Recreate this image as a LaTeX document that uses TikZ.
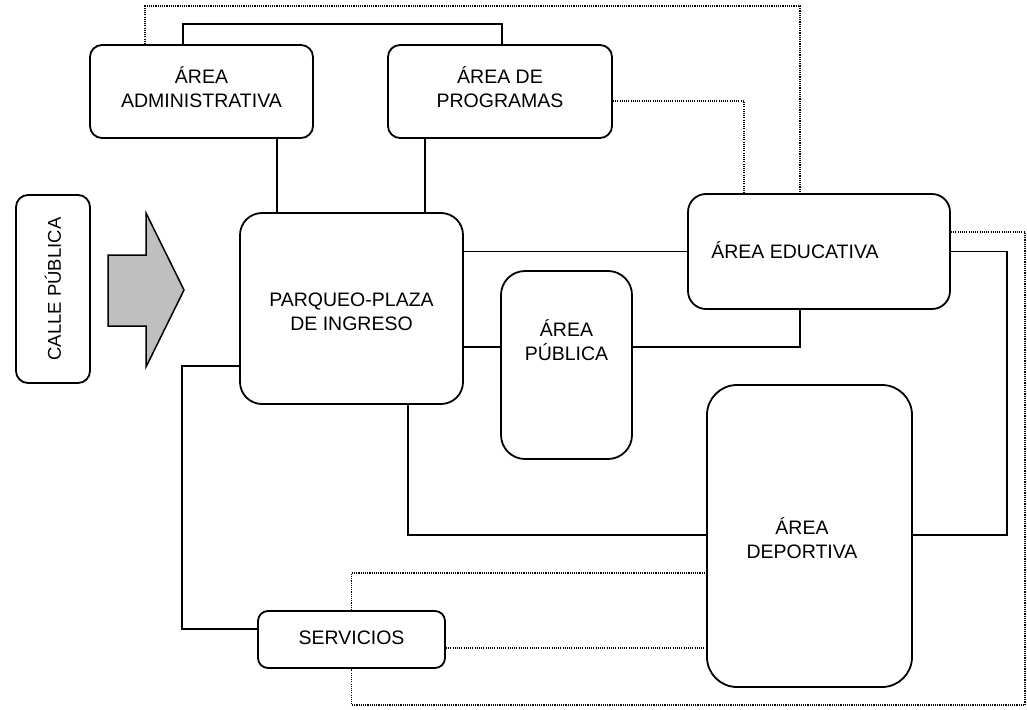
\documentclass[tikz,border=0pt]{standalone}
\usepackage{fontspec}
\setmainfont{Liberation Sans}
\begin{document}
\begin{tikzpicture}[x=1pt,y=-1pt,
  box/.style={draw, line width=1.8pt, rounded corners=#1, inner sep=0pt},
  txt/.style={font=\fontsize{19.5}{24}\selectfont, align=center, inner sep=0pt},
  conn/.style={line width=1.8pt},
  dotline/.style={line width=1.3pt, dash pattern=on 1.1pt off 1.1pt}]
\useasboundingbox (0,0) rectangle (1027,709);
% boxes
\node[box=12pt, minimum width=223pt, minimum height=93pt] (adm) at (201.5,91.5) {};
\node[txt] (admT) at (201.5,87) {ÁREA\\ADMINISTRATIVA};
\node[box=12pt, minimum width=224pt, minimum height=93pt] (prog) at (500,91.5) {};
\node[txt] (progT) at (500,87) {ÁREA DE\\PROGRAMAS};
\node[box=12pt, minimum width=74pt, minimum height=188pt] (calle) at (53,289) {};
\node[txt, rotate=90] (calleT) at (53,289) {\fontsize{18.5}{22}\selectfont CALLE PÚBLICA};
\node[box=22pt, minimum width=223pt, minimum height=191pt] (parq) at (351.5,308.5) {};
\node[txt] (parqT) at (351.5,312) {PARQUEO-PLAZA\\DE INGRESO};
\node[box=18pt, minimum width=262pt, minimum height=115pt] (edu) at (819,251.5) {};
\node[txt] (eduT) at (795,250) {ÁREA EDUCATIVA};
\node[box=24pt, minimum width=131pt, minimum height=188pt] (pub) at (566.5,365) {};
\node[txt] (pubT) at (566.5,340) {ÁREA\\PÚBLICA};
\node[box=30pt, minimum width=205pt, minimum height=302pt] (dep) at (809.5,536) {};
\node[txt] (depT) at (802,538) {ÁREA\\DEPORTIVA};
\node[box=10pt, minimum width=187pt, minimum height=57pt] (serv) at (351.5,639.5) {};
\node[txt] (servT) at (351.5,638) {SERVICIOS};
% arrow from street
\draw[line width=1.5pt, fill=gray!50, line join=miter] (108,255) -- (146,255) -- (146,213) -- (184,290) -- (146,367) -- (146,326) -- (108,326) -- cycle;
% helper levels
\coordinate (yPub) at (0,347);
\coordinate (yDep) at (0,535);
\coordinate (yDot) at (0,573);
% solid connectors
\draw[conn] ([xshift=-18.5pt]adm.north) -- ++(0,-20) -| ([xshift=2pt]prog.north);
\draw[conn] ([xshift=75.5pt]adm.south) -- ([xshift=75.5pt]adm.south |- parq.north);
\draw[conn] ([xshift=-75pt]prog.south) -- ([xshift=-75pt]prog.south |- parq.north);
\draw[conn] (parq.east |- edu.west) -- (edu.west);
\draw[conn] (parq.east |- yPub) -- (pub.west |- yPub);
\draw[conn] (pub.east |- yPub) -| ([xshift=-19pt]edu.south);
\draw[conn] (edu.east) -- ++(56,0) |- (dep.east |- yDep);
\draw[conn] ([xshift=56.5pt]parq.south) |- (dep.west |- yDep);
\draw[conn] ([yshift=-57.5pt]parq.west) -- ++(-57,0) |- ([yshift=10.5pt]serv.west);
% dotted connectors
\draw[dotline] ([xshift=-56.5pt]adm.north) -- ++(0,-38) -| ([xshift=-19pt]edu.north);
\draw[dotline] ([yshift=-9.5pt]prog.east) -| ([xshift=-75pt]edu.north);
\draw[dotline] ([yshift=19.5pt]edu.east) -- ++(74,0) -- ++(0,473) -| (serv.south);
\draw[dotline] (serv.north) |- (dep.west |- yDot);
\draw[dotline] ([yshift=-8.5pt]serv.east) -- ([yshift=-8.5pt]serv.east -| dep.west);
\end{tikzpicture}
\end{document}
